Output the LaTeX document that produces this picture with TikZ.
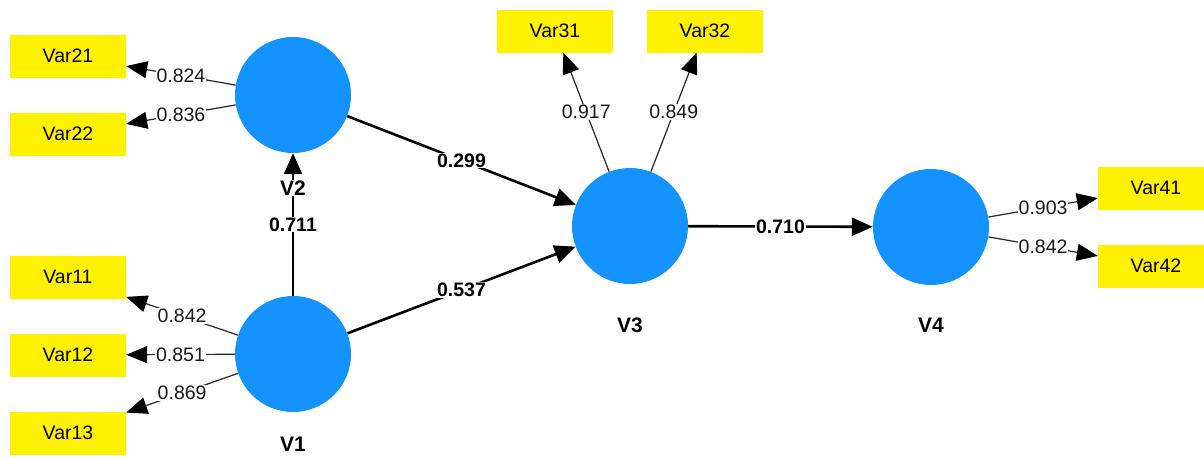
\documentclass[tikz,border=0pt]{standalone}
\usepackage{fontspec}
\setmainfont{Liberation Sans}
\usetikzlibrary{arrows.meta}
\definecolor{latentblue}{RGB}{20,147,255}
\tikzset{
  latent/.style={circle, fill=latentblue, minimum size=116pt, inner sep=0pt},
  indicator/.style={rectangle, fill=yellow, minimum width=116pt, minimum height=43pt, inner sep=0pt, font=\fontsize{19.5}{21}\selectfont},
  loading/.style={draw=black!85, line width=1.2pt, -{Triangle[length=21pt,width=17pt,black]}},
  pathline/.style={draw=black, line width=2.6pt, -{Triangle[length=21pt,width=18pt]}},
  coef/.style={fill=white, inner sep=1pt, text=black!90, font=\fontsize{19.5}{21}\selectfont},
  coefbold/.style={fill=white, inner sep=1pt, font=\bfseries\fontsize{19.5}{21}\selectfont},
  lvname/.style={fill=white, inner sep=1pt, font=\bfseries\fontsize{21}{23}\selectfont}
}
\begin{document}
\begin{tikzpicture}[x=1pt,y=-1pt]
\useasboundingbox (0,0) rectangle (1204,458);
\node[latent] (v1) at (293,354) {};
\node[latent] (v2) at (293,95) {};
\node[latent] (v3) at (630,226) {};
\node[latent] (v4) at (931,227) {};
\node[indicator] (var21) at (68,56) {Var21};
\node[indicator] (var22) at (68,134) {Var22};
\node[indicator] (var11) at (68,277) {Var11};
\node[indicator] (var12) at (68,355) {Var12};
\node[indicator] (var13) at (68,433) {Var13};
\node[indicator] (var31) at (555,31) {Var31};
\node[indicator] (var32) at (705,31) {Var32};
\node[indicator] (var41) at (1156,188) {Var41};
\node[indicator] (var42) at (1156,266) {Var42};
\draw[loading] (v2) -- node[coef] {0.824} (var21);
\draw[loading] (v2) -- node[coef] {0.836} (var22);
\draw[loading] (v1) -- node[coef] {0.842} (var11);
\draw[loading] (v1) -- node[coef] {0.851} (var12);
\draw[loading] (v1) -- node[coef] {0.869} (var13);
\draw[loading] (v3) -- node[coef] {0.917} (var31);
\draw[loading] (v3) -- node[coef] {0.849} (var32);
\draw[loading] (v4) -- node[coef] {0.903} (var41);
\draw[loading] (v4) -- node[coef] {0.842} (var42);
\draw[pathline] (v1) -- node[coefbold] {0.711} (v2);
\draw[pathline] (v2) -- node[coefbold] {0.299} (v3);
\draw[pathline] (v1) -- node[coefbold] {0.537} (v3);
\draw[pathline] (v3) -- node[coefbold] {0.710} (v4);
\node[lvname] (v1name) at (293,444) {V1};
\node[lvname] (v2name) at (293,188) {V2};
\node[lvname] (v3name) at (630,325) {V3};
\node[lvname] (v4name) at (931,325) {V4};
\end{tikzpicture}
\end{document}
